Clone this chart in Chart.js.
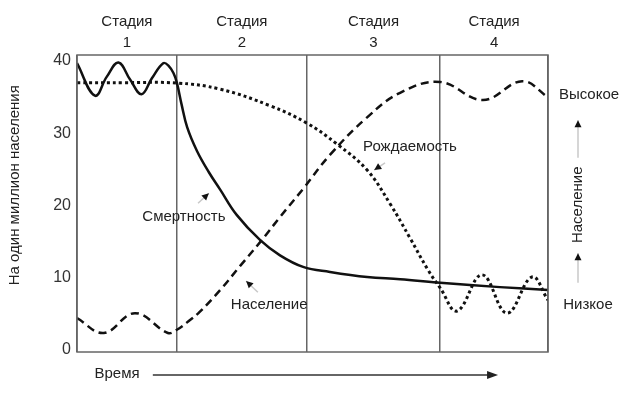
<!DOCTYPE html>
<html lang="ru">
<head>
<meta charset="utf-8">
<title>Демографический переход</title>
<script src="https://cdn.jsdelivr.net/npm/chart.js@4/dist/chart.umd.min.js"></script>
<style>
  body { margin: 0; background: #fff; }
</style>
</head>
<body>
<canvas id="demoChart" width="623" height="399"></canvas>
<script>
// время в условных единицах 0..100
const stageBounds = [0, 21.2, 48.8, 77.1, 100];
const stageNames = ['1', '2', '3', '4'];
const yTicks = [0, 10, 20, 30, 40];

const deathX = [0, 3.8, 6.3, 8.8, 11.3, 13.7, 15.9, 18.3, 19.5, 20.5, 21.2, 22.2, 23.4, 25.5, 28.0, 30.4, 33.9, 38.9, 43.1, 48.0, 53.7, 61.6, 68.6, 77.1, 89.8, 100];
const death = [39.7, 35.2, 37.8, 39.8, 37.4, 35.4, 37.6, 39.7, 39.3, 38.3, 37.0, 34.0, 30.8, 27.5, 24.6, 22.2, 18.7, 15.2, 13.1, 11.5, 10.8, 10.1, 9.8, 9.3, 8.7, 8.3];

const birthX = [0, 10, 21.2, 30.4, 41.0, 48.8, 55.2, 61.6, 66.5, 70.7, 74.5, 77.1, 80.7, 86.0, 91.3, 96.6, 100];
const birth = [37.0, 37.0, 36.95, 36.1, 33.8, 31.4, 28.5, 24.9, 20.2, 15.5, 11.1, 8.6, 5.4, 10.4, 5.1, 10.1, 6.9];

const popX = [0, 5.7, 12.3, 19.3, 21.2, 24.0, 26.1, 30.4, 34.6, 39.1, 43.1, 48.0, 53.7, 61.6, 68.6, 77.1, 86.2, 94.5, 100];
const population = [4.4, 2.35, 5.1, 2.35, 2.8, 4.15, 5.3, 8.3, 11.6, 15.1, 18.4, 22.3, 27.0, 32.2, 35.6, 37.1, 34.6, 37.2, 35.0];

// подписи кривых (в координатах графика)
const notes = [
  { text: 'Смертность', x: 22.7, y: 18.4, from: [25.7, 20.3], to: [28.0, 21.7] },
  { text: 'Население', x: 40.8, y: 6.2, from: [38.4, 8.0], to: [35.9, 9.55] },
  { text: 'Рождаемость', x: 70.7, y: 28.1, from: [65.4, 25.9], to: [63.1, 24.9] }
];

const FONT = '"Liberation Sans", Arial, sans-serif';
const pts = (xs, ys) => xs.map((x, i) => ({ x: x, y: ys[i] }));

function arrowHead(ctx, x1, y1, x2, y2, len, half) {
  const a = Math.atan2(y2 - y1, x2 - x1);
  const c = Math.cos(a), s = Math.sin(a);
  ctx.beginPath();
  ctx.moveTo(x2, y2);
  ctx.lineTo(x2 - len * c + half * s, y2 - len * s - half * c);
  ctx.lineTo(x2 - len * c - half * s, y2 - len * s + half * c);
  ctx.closePath();
  ctx.fill();
}

const decor = {
  id: 'decor',
  afterDraw(chart) {
    const ctx = chart.ctx;
    const area = chart.chartArea;
    const xs = chart.scales.x, ys = chart.scales.y;
    ctx.save();

    // рамка
    ctx.strokeStyle = '#666';
    ctx.lineWidth = 1.5;
    ctx.strokeRect(area.left, area.top, area.right - area.left, area.bottom - area.top);

    ctx.fillStyle = '#222';
    ctx.font = '15px ' + FONT;
    ctx.textAlign = 'center';
    ctx.textBaseline = 'middle';

    // стадии
    for (let i = 0; i < stageNames.length; i++) {
      const cx = xs.getPixelForValue((stageBounds[i] + stageBounds[i + 1]) / 2);
      ctx.fillText('Стадия', cx, area.top - 33);
      ctx.fillText(stageNames[i], cx, area.top - 12);
    }

    // подпись оси Y
    ctx.save();
    ctx.translate(15, ys.getPixelForValue(22.8));
    ctx.rotate(-Math.PI / 2);
    ctx.fillText('На один миллион населения', 0, 0);
    ctx.restore();

    // подписи кривых со стрелками
    notes.forEach(n => {
      ctx.fillStyle = '#222';
      ctx.fillText(n.text, xs.getPixelForValue(n.x), ys.getPixelForValue(n.y));
      const x1 = xs.getPixelForValue(n.from[0]), y1 = ys.getPixelForValue(n.from[1]);
      const x2 = xs.getPixelForValue(n.to[0]), y2 = ys.getPixelForValue(n.to[1]);
      ctx.strokeStyle = '#c8c8c8';
      ctx.lineWidth = 1.5;
      ctx.beginPath();
      ctx.moveTo(x1, y1);
      ctx.lineTo(x2, y2);
      ctx.stroke();
      ctx.fillStyle = '#111';
      arrowHead(ctx, x1, y1, x2, y2, 7, 3.5);
    });

    // правая шкала населения
    const rx = area.right + 30;
    ctx.fillStyle = '#222';
    ctx.fillText('Высокое', area.right + 41, ys.getPixelForValue(35.3));
    ctx.fillText('Низкое', area.right + 40, ys.getPixelForValue(6.2));
    ctx.save();
    ctx.translate(rx, ys.getPixelForValue(20.1));
    ctx.rotate(-Math.PI / 2);
    ctx.fillText('Население', 0, 0);
    ctx.restore();
    [[26.6, 31.8], [9.3, 13.4]].forEach(seg => {
      const y1 = ys.getPixelForValue(seg[0]), y2 = ys.getPixelForValue(seg[1]);
      ctx.strokeStyle = '#c8c8c8';
      ctx.lineWidth = 1.5;
      ctx.beginPath();
      ctx.moveTo(rx, y1);
      ctx.lineTo(rx, y2);
      ctx.stroke();
      ctx.fillStyle = '#111';
      arrowHead(ctx, rx, y1, rx, y2, 7, 3.5);
    });

    // ось времени
    const by = area.bottom + 23;
    ctx.fillStyle = '#222';
    ctx.fillText('Время', 117, by - 1);
    const ax1 = xs.getPixelForValue(16.1), ax2 = xs.getPixelForValue(89.4);
    ctx.strokeStyle = '#333';
    ctx.lineWidth = 1.5;
    ctx.beginPath();
    ctx.moveTo(ax1, by);
    ctx.lineTo(ax2 - 6, by);
    ctx.stroke();
    ctx.fillStyle = '#222';
    arrowHead(ctx, ax1, by, ax2, by, 11, 4);

    ctx.restore();
  }
};

new Chart(document.getElementById('demoChart'), {
  type: 'line',
  data: {
    datasets: [{
      label: 'Смертность',
      data: pts(deathX, death),
      borderColor: '#111',
      borderWidth: 2.5
    }, {
      label: 'Рождаемость',
      data: pts(birthX, birth),
      borderColor: '#111',
      borderWidth: 3,
      borderDash: [3, 3]
    }, {
      label: 'Население',
      data: pts(popX, population),
      borderColor: '#111',
      borderWidth: 2.5,
      borderDash: [8, 5]
    }]
  },
  options: {
    responsive: false,
    animation: false,
    events: [],
    layout: { padding: { top: 55, right: 75, bottom: 47, left: 0 } },
    elements: {
      point: { radius: 0 },
      line: { tension: 0.4, fill: false }
    },
    plugins: { legend: { display: false }, tooltip: { enabled: false } },
    scales: {
      x: {
        type: 'linear',
        min: 0,
        max: 100,
        afterBuildTicks: axis => { axis.ticks = stageBounds.map(v => ({ value: v })); },
        afterFit: axis => { axis.height = 0; },
        ticks: { display: false },
        grid: { color: '#666', lineWidth: 1.5, drawTicks: false },
        border: { display: false }
      },
      y: {
        min: -0.28,
        max: 40.83,
        afterBuildTicks: axis => { axis.ticks = yTicks.map(v => ({ value: v })); },
        afterFit: axis => { axis.width = 77; },
        ticks: { padding: 6, color: '#333', font: { size: 16, family: FONT } },
        grid: { display: false, drawTicks: false },
        border: { display: false }
      }
    }
  },
  plugins: [decor]
});
</script>
</body>
</html>
